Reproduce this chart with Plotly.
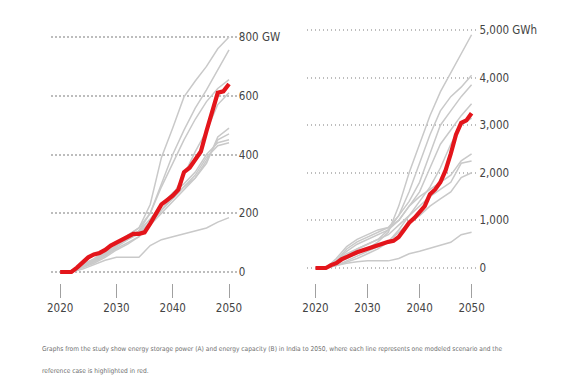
import plotly.graph_objects as go

# ---------------- data ----------------
YEARS_RED = list(range(2020, 2051))
YEARS_GRAY = list(range(2020, 2051, 2))

power_reference = [0, 0, 0, 15, 35, 50, 60, 65, 75, 90, 100, 110, 120, 130, 130, 135,
                   165, 200, 230, 245, 260, 280, 340, 355, 380, 410, 480, 550, 610, 615, 640]

power_scenarios = [
    [0, 5, 25, 45, 70, 100, 125, 150, 230, 390, 490, 596, 650, 700, 760, 800],
    [0, 5, 20, 40, 60, 90, 115, 140, 200, 300, 400, 483, 558, 620, 688, 756],
    [0, 5, 25, 45, 70, 100, 125, 150, 200, 290, 370, 450, 520, 580, 625, 655],
    [0, 5, 20, 40, 60, 90, 115, 135, 170, 210, 260, 330, 410, 480, 570, 610],
    [0, 5, 20, 40, 65, 90, 110, 130, 165, 210, 250, 290, 320, 370, 460, 490],
    [0, 5, 20, 35, 55, 80, 100, 120, 160, 200, 240, 280, 320, 380, 450, 470],
    [0, 5, 15, 35, 55, 85, 110, 140, 180, 230, 270, 300, 340, 400, 440, 450],
    [0, 5, 15, 30, 50, 75, 95, 120, 170, 210, 250, 290, 330, 390, 430, 440],
    [0, 0, 10, 25, 40, 50, 50, 50, 90, 110, 120, 130, 140, 150, 170, 185],
]

energy_reference = [0, 0, 0, 60, 100, 180, 240, 280, 330, 370, 400, 450, 490, 530, 550, 570,
                    650, 800, 950, 1050, 1170, 1300, 1550, 1650, 1800, 2050, 2400, 2800, 3050, 3100, 3250]

energy_scenarios = [
    [0, 0, 100, 200, 300, 400, 550, 750, 1300, 2000, 2600, 3200, 3700, 4100, 4500, 4900],
    [0, 0, 150, 300, 400, 500, 600, 800, 1100, 1600, 2200, 2800, 3300, 3600, 3800, 4050],
    [0, 0, 200, 450, 600, 700, 800, 850, 1100, 1400, 1800, 2400, 3000, 3300, 3600, 3850],
    [0, 0, 150, 400, 550, 650, 750, 850, 1000, 1300, 1600, 2100, 2600, 2900, 3200, 3450],
    [0, 0, 150, 350, 500, 600, 700, 800, 1000, 1300, 1500, 1650, 1800, 1950, 2250, 2400],
    [0, 0, 100, 250, 400, 500, 600, 700, 900, 1100, 1300, 1500, 1650, 1800, 2200, 2250],
    [0, 0, 50, 150, 250, 350, 450, 550, 750, 950, 1100, 1300, 1450, 1600, 1900, 2000],
    [0, 0, 50, 120, 200, 300, 400, 550, 800, 1100, 1400, 1700, 2100, 2600, 3000, 3150],
    [0, 0, 50, 100, 130, 150, 150, 150, 200, 300, 350, 420, 480, 540, 700, 750],
]

year_ticks = [2020, 2030, 2040, 2050]
power_ticks = [0, 200, 400, 600, 800]
power_ticktext = ["0", "200", "400", "600", "800 GW"]
energy_ticks = [0, 1000, 2000, 3000, 4000, 5000]
energy_ticktext = ["0", "1,000", "2,000", "3,000", "4,000", "5,000 GWh"]

caption_1 = ("Graphs from the study show energy storage power (A) and energy capacity (B) in India to 2050, "
             "where each line represents one modeled scenario and the")
caption_2 = "reference case is highlighted in red."

# ---------------- figure ----------------
OFF = 8                      # page body margin
W, H = 564 - OFF, 386 - OFF  # figure size inside the page
GRAY = "#c9c9c9"
RED = "#e3151b"
FONT = "Liberation Sans Narrow, Arial Narrow, DejaVu Sans Condensed, Roboto, sans-serif"


def px(x):
    return (x - OFF) / W


def py(y):
    return (H - (y - OFF)) / H


fig = go.Figure()
for s in power_scenarios:
    fig.add_trace(go.Scatter(x=YEARS_GRAY, y=s, mode="lines", line=dict(color=GRAY, width=1.5),
                             xaxis="x", yaxis="y", hoverinfo="skip"))
fig.add_trace(go.Scatter(x=YEARS_RED, y=power_reference, mode="lines", line=dict(color=RED, width=4.2),
                         xaxis="x", yaxis="y"))
for s in energy_scenarios:
    fig.add_trace(go.Scatter(x=YEARS_GRAY, y=s, mode="lines", line=dict(color=GRAY, width=1.5),
                             xaxis="x2", yaxis="y2", hoverinfo="skip"))
fig.add_trace(go.Scatter(x=YEARS_RED, y=energy_reference, mode="lines", line=dict(color=RED, width=4.2),
                         xaxis="x2", yaxis="y2"))

ydom = [py(283), py(20)]
xcommon = dict(tickvals=year_ticks, ticks="outside", ticklen=14, tickwidth=1, tickcolor="#a0a0a0",
               showgrid=False, zeroline=False, showline=False, ticklabelstandoff=0,
               tickfont=dict(family=FONT, size=11.5, color="#444444"))
ycommon = dict(side="right", showgrid=True, gridcolor="#bdbdbd", griddash="1.5px,2.5px", gridwidth=1.5,
               zeroline=False, showline=False, ticks="", ticklabelstandoff=0,
               tickfont=dict(family=FONT, size=11.5, color="#444444"))

fig.update_layout(
    width=W, height=H, margin=dict(l=0, r=0, t=0, b=0),
    paper_bgcolor="white", plot_bgcolor="white", showlegend=False,
    xaxis=dict(domain=[px(48), px(238)], range=[2018.43, 2051.57], anchor="y", **xcommon),
    yaxis=dict(domain=ydom, range=[-37.4, 857.9], anchor="x", tickvals=power_ticks,
               ticktext=power_ticktext, **ycommon),
    xaxis2=dict(domain=[px(308), px(483)], range=[2018.30, 2051.32], anchor="y2", **xcommon),
    yaxis2=dict(domain=ydom, range=[-315, 5210], anchor="x2", tickvals=energy_ticks,
                ticktext=energy_ticktext, **ycommon),
)

fig.add_annotation(text=caption_1, xref="paper", yref="paper", x=px(37), y=py(349),
                   xanchor="left", yanchor="middle", showarrow=False,
                   font=dict(family=FONT, size=6.6, color="#6f6f6f"))
fig.add_annotation(text=caption_2, xref="paper", yref="paper", x=px(37), y=py(371),
                   xanchor="left", yanchor="middle", showarrow=False,
                   font=dict(family=FONT, size=6.6, color="#6f6f6f"))

fig.write_html("out.html")
